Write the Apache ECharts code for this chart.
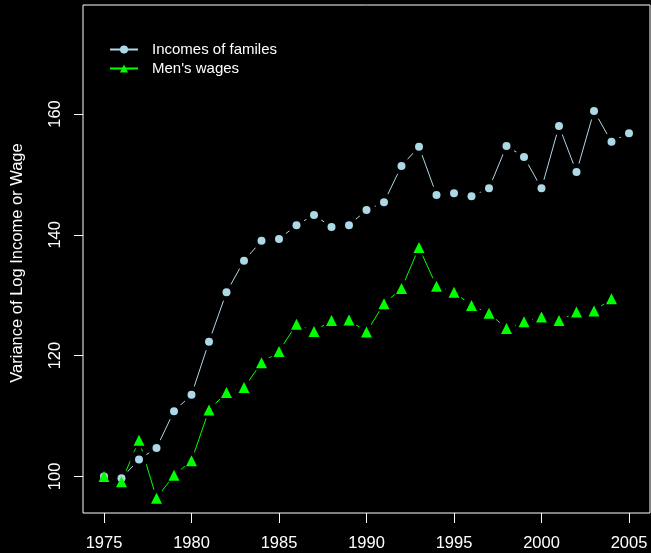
<!DOCTYPE html>
<html>
<head>
<meta charset="utf-8">
<script src="https://cdn.jsdelivr.net/npm/echarts@6/dist/echarts.min.js"></script>
<style>
html,body{margin:0;padding:0;background:#000;}
#chart{width:651px;height:553px;}
</style>
</head>
<body>
<div id="chart"></div>
<script>
var years = [1975,1976,1977,1978,1979,1980,1981,1982,1983,1984,1985,1986,1987,1988,1989,1990,1991,1992,1993,1994,1995,1996,1997,1998,1999,2000,2001,2002,2003,2004,2005];
var incomes = [100.0,99.7,102.8,104.7,110.8,113.5,122.3,130.5,135.7,139.0,139.3,141.6,143.3,141.3,141.6,144.1,145.4,151.4,154.6,146.6,146.9,146.4,147.7,154.7,152.9,147.7,158.0,150.4,160.5,155.4,156.8];
var wages = [100.0,99.1,106.0,96.4,100.2,102.6,111.0,113.9,114.7,118.8,120.7,125.2,124.0,125.8,125.9,123.9,128.6,131.1,137.9,131.5,130.5,128.3,127.0,124.5,125.6,126.4,125.8,127.2,127.4,129.4,null];
var xTicks = [1975,1980,1985,1990,1995,2000,2005];
var yTicks = [100,120,140,160];
var seriesNames = ['Incomes of familes', "Men's wages"];
var yTitle = 'Variance of Log Income or Wage';

function pairs(vals){
  var out = [];
  for (var i = 0; i < years.length; i++) {
    if (vals[i] !== null) out.push([years[i], vals[i]]);
  }
  return out;
}

var FONT = 'Liberation Sans';
var blue = '#ADD8E6', green = '#00FF00';
var chart = echarts.init(document.getElementById('chart'), null, {renderer:'canvas'});
chart.setOption({
  backgroundColor: '#000',
  animation: false,
  textStyle: {fontFamily: FONT},
  grid: {left: 83, right: 1, top: 5, bottom: 40, show: true, borderColor: '#fff', borderWidth: 1, backgroundColor: 'transparent'},
  legend: {
    orient: 'vertical', left: 109, top: 40, padding: 0, itemGap: 0,
    itemWidth: 28, itemHeight: 10,
    data: seriesNames,
    textStyle: {color: '#fff', fontSize: 15, fontFamily: FONT, lineHeight: 19, padding: [0,0,0,9]}
  },
  xAxis: {
    type: 'value', min: 1973.8, max: 2006.2,
    axisLine: {show: false},
    splitLine: {show: false},
    axisTick: {show: true, length: 10, lineStyle: {color: '#fff'}, customValues: xTicks},
    axisLabel: {color: '#fff', fontSize: 16.5, fontFamily: FONT, margin: 22, customValues: xTicks, formatter: function(v){return String(v);}}
  },
  yAxis: {
    type: 'value', min: 93.94, max: 178.05,
    name: yTitle, nameLocation: 'middle', nameRotate: 90, nameGap: 57,
    nameTextStyle: {color: '#fff', fontSize: 16.5, fontFamily: FONT, padding: [0,8,0,0]},
    axisLine: {show: false},
    splitLine: {show: false},
    axisTick: {show: true, length: 9, lineStyle: {color: '#fff'}, customValues: yTicks},
    axisLabel: {color: '#fff', fontSize: 16.5, fontFamily: FONT, rotate: 90, margin: 19, customValues: yTicks}
  },
  series: [
    {name: seriesNames[0], type: 'line', data: pairs(incomes), z: 1, symbol: 'circle', symbolSize: 8, showSymbol: true,
     lineStyle: {color: blue, width: 1}, itemStyle: {color: blue, opacity: 1}, silent: true},
    {name: seriesNames[1], type: 'line', data: pairs(wages), z: 1, symbol: 'triangle', symbolSize: 11, showSymbol: true,
     lineStyle: {color: green, width: 1}, itemStyle: {color: green, opacity: 1}, silent: true},
    {name: 'mask1', type: 'scatter', data: pairs(incomes), z: 2, symbol: 'circle', symbolSize: 18, itemStyle: {color: '#000', opacity: 1}, silent: true},
    {name: 'mask2', type: 'scatter', data: pairs(wages), z: 2, symbol: 'circle', symbolSize: 18, itemStyle: {color: '#000', opacity: 1}, silent: true},
    {name: 'mark1', type: 'scatter', data: pairs(incomes), z: 3, symbol: 'circle', symbolSize: 8, itemStyle: {color: blue, opacity: 1}, silent: true},
    {name: 'mark2', type: 'scatter', data: pairs(wages), z: 4, symbol: 'triangle', symbolSize: 11, itemStyle: {color: green, opacity: 1}, silent: true}
  ]
});
</script>
</body>
</html>
